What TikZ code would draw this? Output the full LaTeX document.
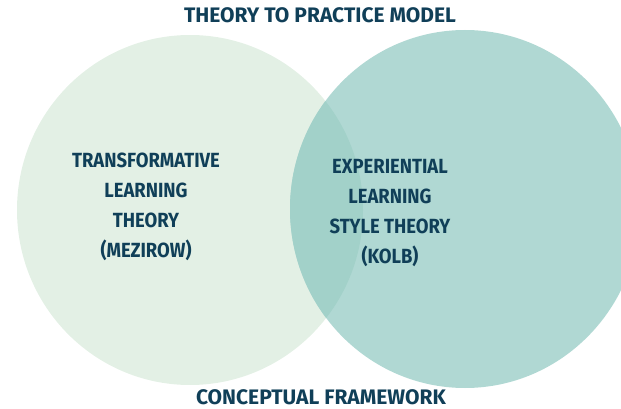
\documentclass[tikz,border=0pt]{standalone}
\usepackage{fontspec}
\setmainfont{Fira Sans}
\newfontfamily\narrowfira[FakeStretch=0.9]{Fira Sans}
\definecolor{navy}{HTML}{103F58}
\definecolor{sage}{HTML}{E3F0E5}
\definecolor{teal}{HTML}{B0D8D3}
\definecolor{overlap}{HTML}{A2D1C9}
\tikzset{
  heading/.style={text=navy, anchor=base, inner sep=0pt,
    font=\bfseries\fontsize{21}{24}\selectfont},
  theory/.style={text=navy, align=center, anchor=north, inner sep=0pt,
    font=\narrowfira\bfseries\fontsize{20.5}{30}\selectfont}
}
\begin{document}
\begin{tikzpicture}[x=1pt, y=-1pt]
  \useasboundingbox (0,0) rectangle (621,409);
  % the two circles
  \fill[sage] (190,210) ellipse [x radius=173, y radius=175];
  \fill[teal] (465,209) ellipse [x radius=175, y radius=179];
  \begin{scope}
    \clip (190,210) ellipse [x radius=173, y radius=175];
    \fill[overlap] (465,209) ellipse [x radius=175, y radius=179];
  \end{scope}
  % labels
  \node[heading] (title) at (320,22.5) {THEORY TO PRACTICE MODEL};
  \node[heading] (frame) at (321,404) {CONCEPTUAL FRAMEWORK};
  \node[theory] (mezirow) at (146,152.5) {TRANSFORMATIVE\\LEARNING\\THEORY\\(MEZIROW)};
  \node[theory] (kolb) at (390,159.5) {EXPERIENTIAL\\LEARNING\\STYLE THEORY\\(KOLB)};
\end{tikzpicture}
\end{document}
